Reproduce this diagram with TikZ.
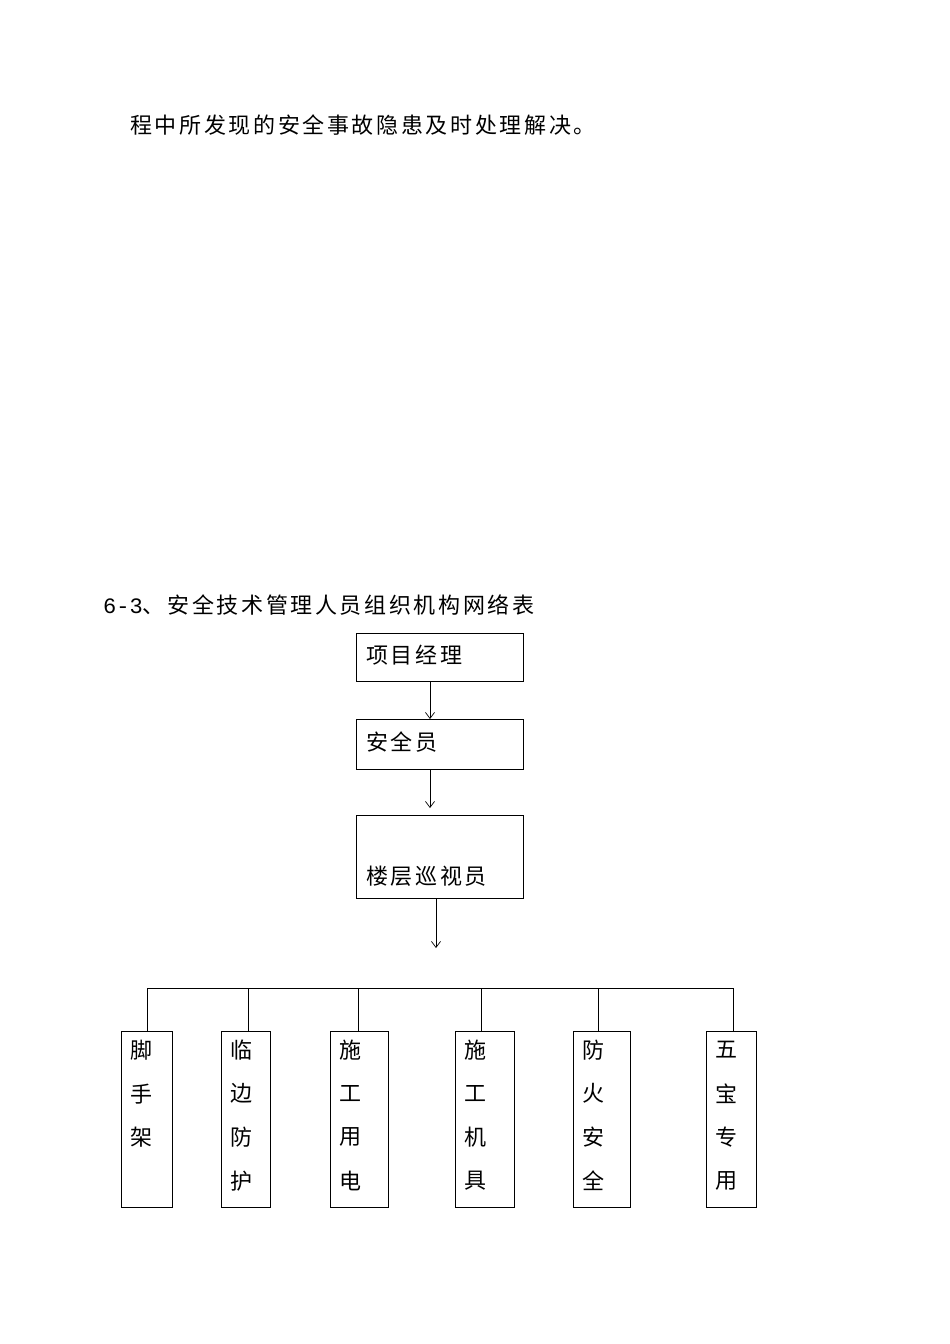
\documentclass[tikz,border=0pt]{standalone}
\usepackage{fontspec}
\setmainfont{Noto Sans CJK SC}[LetterSpace=12]
\newfontfamily\latinfont{Liberation Mono}
\begin{document}
\begin{tikzpicture}[x=1pt,y=-1pt,
  box/.style={draw,line width=0.8pt,minimum width=167pt,anchor=north west,inner sep=0pt},
  vbox/.style={draw,line width=0.8pt,anchor=north west,inner sep=0pt,minimum height=176pt},
  txt/.style={font=\fontsize{22pt}{26pt}\selectfont,anchor=west,inner sep=0pt},
  arr/.style={->,line width=0.7pt,>={Straight Barb[length=6pt,width=9pt]}},
  ln/.style={line width=0.8pt}]
\usetikzlibrary{arrows.meta}
\useasboundingbox (0,0) rectangle (950,1344);
\node[txt] (t1) at (130,125) {程中所发现的安全事故隐患及时处理解决。};
\node[txt] (t2) at (103,605) {{\latinfont\fontsize{22pt}{26pt}\selectfont 6-3}、安全技术管理人员组织机构网络表};
\node[box,minimum height=48pt] (b1) at (356,633) {};
\node[txt] at (366,655) {项目经理};
\node[box,minimum height=50pt] (b2) at (356,719) {};
\node[txt] at (366,742) {安全员};
\node[box,minimum height=83pt] (b3) at (356,815) {};
\node[txt] at (366,876) {楼层巡视员};
\draw[arr] (b1.south -| 430,0) -- (b2.north -| 430,0);
\draw[arr] (b2.south -| 430,0) -- (430,808);
\coordinate (a3) at (436,948);
\draw[arr] (b3.south -| 436,0) -- (a3);
\coordinate (hl) at (147,988);
\coordinate (hr) at (733,988);
\draw[ln] (hl) -- (hr);
\foreach \name/\l/\r/\cx/\t in {c1/121/172/147/{脚,手,架},c2/221/270/248/{临,边,防,护},c3/330/388/358/{施,工,用,电},c4/455/514/481/{施,工,机,具},c5/573/630/598/{防,火,安,全},c6/706/756/733/{五,宝,专,用}}{
  \node[vbox,minimum width={\r-\l}] (\name) at (\l,1031) {};
  \draw[ln] (\cx,988) -- (\name.north -| \cx,0);
  \foreach \ch [count=\i] in \t {
    \node[txt] at (\l+9,1050+43.7*\i-43.7) {\ch};
  }
}
\end{tikzpicture}
\end{document}
